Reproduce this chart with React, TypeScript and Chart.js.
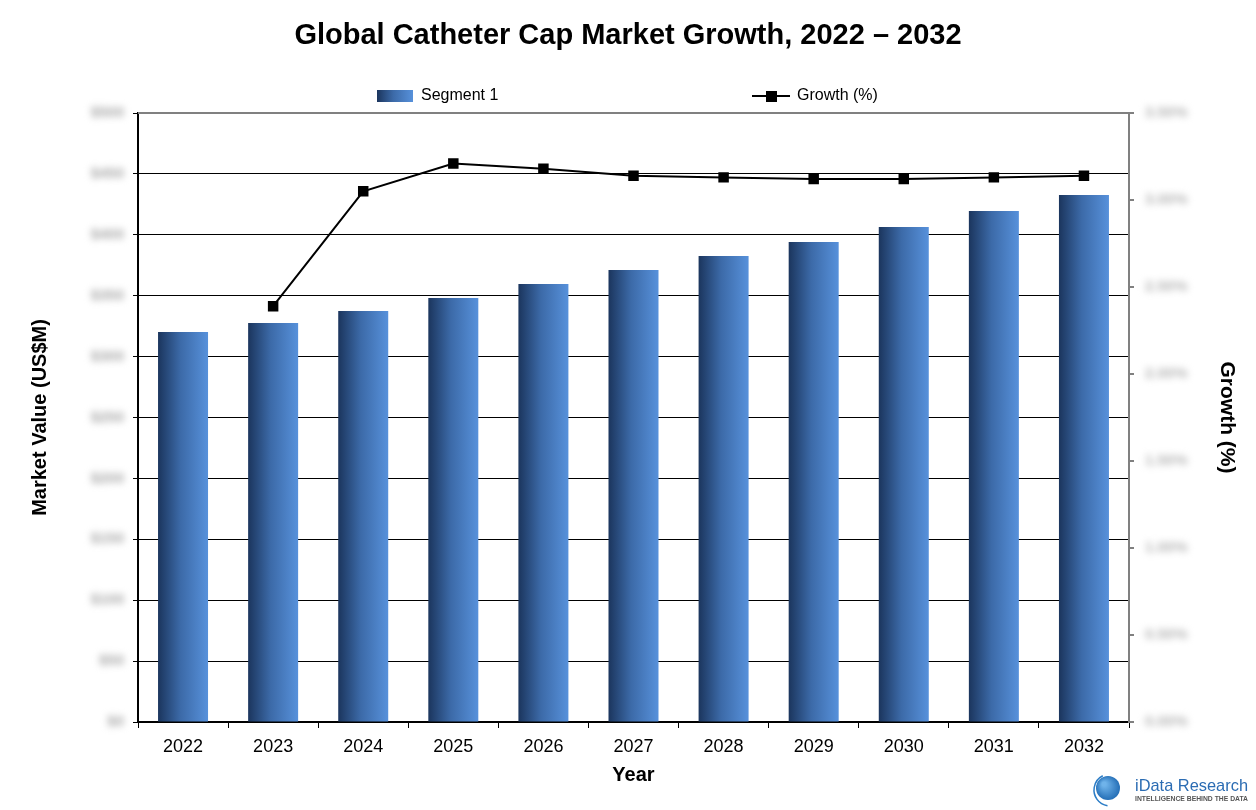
import React, { useEffect, useRef } from "react";
import { Chart, registerables } from "chart.js";

Chart.register(...registerables);

const years = ["2022", "2023", "2024", "2025", "2026", "2027", "2028", "2029", "2030", "2031", "2032"];
const marketValues = [320.2, 327.6, 337.4, 348.1, 359.6, 371.1, 382.6, 394.1, 406.4, 419.5, 432.7];
const growthValues = [null, 2.39, 3.05, 3.21, 3.18, 3.14, 3.13, 3.12, 3.12, 3.13, 3.14];
const leftAxisMin = 0;
const leftAxisMax = 500;
const leftAxisStep = 50;
const rightAxisMin = 0;
const rightAxisMax = 3.5;
const rightAxisStep = 0.5;

const chartTitle = "Global Catheter Cap Market Growth, 2022 \u2013 2032";
const barLabel = "Segment 1";
const lineLabel = "Growth (%)";

const FONT = "'Liberation Sans', Arial, Helvetica, sans-serif";

function barGradient(ctx: CanvasRenderingContext2D, x0: number, x1: number) {
  const g = ctx.createLinearGradient(x0, 0, x1, 0);
  g.addColorStop(0, "#1b355d");
  g.addColorStop(0.45, "#3c6aa8");
  g.addColorStop(1, "#5791db");
  return g;
}

const blurTicksPlugin = {
  id: "blurTicks",
  afterLayout(chart: any) {
    ["y", "y1"].forEach((id) => {
      const s: any = chart.scales[id];
      if (s && !s._blurPatched) {
        const orig = s.drawLabels.bind(s);
        s.drawLabels = (area: any) => {
          const c = chart.ctx;
          c.save();
          c.filter = "blur(3.5px)";
          orig(area);
          c.restore();
        };
        s._blurPatched = true;
      }
    });
  },
};

const decorPlugin = {
  id: "decor",
  afterDraw(chart: any) {
    const ctx: CanvasRenderingContext2D = chart.ctx;
    const area = chart.chartArea;
    ctx.save();
    // top border
    ctx.strokeStyle = "#808080";
    ctx.lineWidth = 2;
    ctx.beginPath();
    ctx.moveTo(area.left, area.top);
    ctx.lineTo(area.right, area.top);
    ctx.stroke();

    // title
    ctx.fillStyle = "#000";
    ctx.font = `bold 29px ${FONT}`;
    ctx.textAlign = "center";
    ctx.textBaseline = "middle";
    ctx.fillText(chartTitle, 628, 36);

    // legend
    ctx.fillStyle = barGradient(ctx, 377, 413);
    ctx.fillRect(377, 90, 36, 12);
    ctx.fillStyle = "#000";
    ctx.font = `16px ${FONT}`;
    ctx.textAlign = "left";
    ctx.fillText(barLabel, 421, 96);

    ctx.strokeStyle = "#000";
    ctx.lineWidth = 2;
    ctx.beginPath();
    ctx.moveTo(752, 96);
    ctx.lineTo(790, 96);
    ctx.stroke();
    ctx.fillRect(766, 91, 11, 11);
    ctx.fillText(lineLabel, 797, 96);

    // logo
    const cx = 1108, cy = 788;
    const rg = ctx.createRadialGradient(cx - 4, cy - 4, 2, cx, cy, 13);
    rg.addColorStop(0, "#6fb3ea");
    rg.addColorStop(1, "#1f6ab3");
    ctx.fillStyle = rg;
    ctx.beginPath();
    ctx.arc(cx, cy, 12, 0, Math.PI * 2);
    ctx.fill();
    ctx.strokeStyle = "#2a7cc6";
    ctx.lineWidth = 1.5;
    ctx.beginPath();
    ctx.arc(cx + 2, cy + 2, 16, Math.PI * 0.55, Math.PI * 1.35);
    ctx.stroke();
    ctx.fillStyle = "#2b6cb3";
    ctx.font = `17px ${FONT}`;
    ctx.textBaseline = "alphabetic";
    ctx.fillText("iData Research", 1135, 791, 113);
    ctx.fillStyle = "#555";
    ctx.font = `bold 7px ${FONT}`;
    ctx.fillText("INTELLIGENCE BEHIND THE DATA", 1135, 801, 113);
    ctx.restore();
  },
};

export default function App() {
  const canvasRef = useRef<HTMLCanvasElement | null>(null);

  useEffect(() => {
    document.body.style.margin = "0";
    const canvas = canvasRef.current;
    if (!canvas) return;
    const chart = new Chart(canvas, {
      type: "bar",
      data: {
        labels: years,
        datasets: [
          {
            type: "line",
            label: lineLabel,
            data: growthValues as any,
            yAxisID: "y1",
            borderColor: "#000",
            backgroundColor: "#000",
            borderWidth: 2,
            pointStyle: "rect",
            pointRadius: 6,
            pointBackgroundColor: "#000",
            pointBorderColor: "#000",
            tension: 0,
            order: 0,
          } as any,
          {
            type: "bar",
            label: barLabel,
            data: marketValues,
            yAxisID: "y",
            categoryPercentage: 1,
            barPercentage: 0.555,
            order: 1,
            backgroundColor: (c: any) => {
              const ch = c.chart;
              const area = ch.chartArea;
              if (!area || c.dataIndex === undefined) return "#3c6aa8";
              const xs = ch.scales.x;
              const xc = xs.getPixelForValue(c.dataIndex);
              const w = ((area.right - area.left) / years.length) * 0.555;
              return barGradient(ch.ctx, xc - w / 2, xc + w / 2);
            },
          } as any,
        ],
      },
      options: {
        responsive: false,
        animation: false,
        devicePixelRatio: 1,
        layout: { padding: { top: 113, left: 0, right: 0, bottom: 0 } },
        plugins: {
          legend: { display: false },
          title: { display: false },
          tooltip: { enabled: false },
        },
        scales: {
          x: {
            offset: true,
            grid: {
              offset: true,
              drawOnChartArea: false,
              drawTicks: true,
              tickLength: 6,
              tickColor: "#000",
            },
            border: { color: "#000", width: 1.5 },
            ticks: { color: "#000", font: { family: FONT, size: 18 }, padding: 8 },
            title: {
              display: true,
              text: "Year",
              color: "#000",
              font: { family: FONT, size: 20, weight: "bold" },
              padding: { top: 0, bottom: 23 },
            },
            afterFit: (s: any) => {
              s.height = 88;
            },
          },
          y: {
            position: "left",
            min: leftAxisMin,
            max: leftAxisMax,
            grid: {
              color: (c: any) => (c.tick && c.tick.value === leftAxisMax ? "rgba(0,0,0,0)" : "#000"),
              lineWidth: 1,
              tickLength: 5,
              tickColor: "#000",
            },
            border: { color: "#000", width: 2 },
            ticks: {
              stepSize: leftAxisStep,
              color: "#a8a8a8",
              font: { family: FONT, size: 15, weight: "bold" },
              padding: 9,
              callback: (v: any) => "$" + Number(v).toLocaleString("en-US"),
            },
            title: {
              display: true,
              text: "Market Value (US$M)",
              color: "#000",
              font: { family: FONT, size: 20, weight: "bold" },
              padding: { top: 28, bottom: 0 },
            },
            afterFit: (s: any) => {
              s.width = 138;
            },
          },
          y1: {
            position: "right",
            min: rightAxisMin,
            max: rightAxisMax,
            grid: {
              drawOnChartArea: false,
              tickLength: 5,
              tickColor: "#808080",
              lineWidth: 2,
            },
            border: { color: "#808080", width: 2 },
            ticks: {
              stepSize: rightAxisStep,
              color: "#b4b4b4",
              font: { family: FONT, size: 15, weight: "bold" },
              padding: 11,
              callback: (v: any) => Number(v).toFixed(2) + "%",
            },
            title: {
              display: true,
              text: "Growth (%)",
              color: "#000",
              font: { family: FONT, size: 21, weight: "bold" },
              padding: { top: 17, bottom: 0 },
            },
            afterFit: (s: any) => {
              s.width = 127;
            },
          },
        },
      } as any,
      plugins: [blurTicksPlugin, decorPlugin],
    });
    return () => chart.destroy();
  }, []);

  return (
    <div style={{ width: 1256, height: 810, position: "relative", background: "#fff" }}>
      <canvas ref={canvasRef} width={1256} height={810} style={{ display: "block" }} />
    </div>
  );
}
